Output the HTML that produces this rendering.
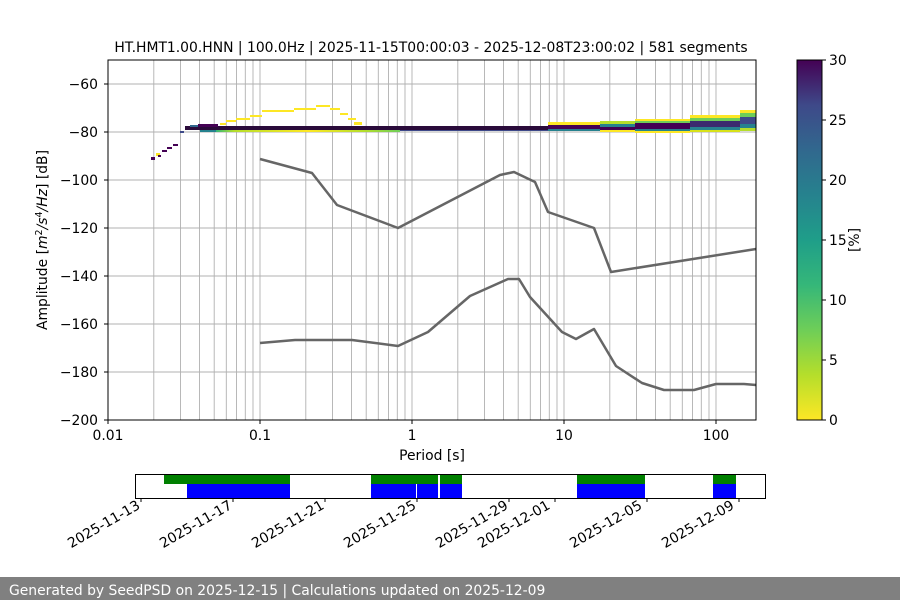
<!DOCTYPE html>
<html><head><meta charset="utf-8"><style>
body{margin:0;background:#fff;}
svg text{font-family:"DejaVu Sans","Liberation Sans",sans-serif;fill:#000;}
</style></head><body>
<svg width="900" height="600" viewBox="0 0 900 600" xmlns="http://www.w3.org/2000/svg">
<defs>
<linearGradient id="vir" x1="0" y1="1" x2="0" y2="0">
<stop offset="0" stop-color="#fde725"/><stop offset="0.125" stop-color="#b5de2b"/>
<stop offset="0.25" stop-color="#6ece58"/><stop offset="0.375" stop-color="#35b779"/>
<stop offset="0.5" stop-color="#1f9e89"/><stop offset="0.625" stop-color="#26828e"/>
<stop offset="0.75" stop-color="#31688e"/><stop offset="0.875" stop-color="#3e4989"/>
<stop offset="1" stop-color="#440154"/>
</linearGradient>
<linearGradient id="low" x1="0" y1="0" x2="1" y2="0">
<stop offset="0" stop-color="#35b779"/><stop offset="0.1" stop-color="#b5de2b"/><stop offset="0.5" stop-color="#fde725"/><stop offset="0.8" stop-color="#b5de2b"/><stop offset="1" stop-color="#6ece58"/>
</linearGradient>
</defs>
<text x="431" y="52" font-size="13.9" text-anchor="middle">HT.HMT1.00.HNN | 100.0Hz | 2025-11-15T00:00:03 - 2025-12-08T23:00:02 | 581 segments</text>
<g stroke="#b0b0b0" stroke-width="0.9">
<line x1="153.8" y1="60" x2="153.8" y2="420"/><line x1="180.5" y1="60" x2="180.5" y2="420"/><line x1="199.5" y1="60" x2="199.5" y2="420"/><line x1="214.2" y1="60" x2="214.2" y2="420"/><line x1="226.3" y1="60" x2="226.3" y2="420"/><line x1="236.5" y1="60" x2="236.5" y2="420"/><line x1="245.3" y1="60" x2="245.3" y2="420"/><line x1="253.0" y1="60" x2="253.0" y2="420"/><line x1="260" y1="60" x2="260" y2="420"/>
<line x1="305.8" y1="60" x2="305.8" y2="420"/><line x1="332.5" y1="60" x2="332.5" y2="420"/><line x1="351.5" y1="60" x2="351.5" y2="420"/><line x1="366.2" y1="60" x2="366.2" y2="420"/><line x1="378.3" y1="60" x2="378.3" y2="420"/><line x1="388.5" y1="60" x2="388.5" y2="420"/><line x1="397.3" y1="60" x2="397.3" y2="420"/><line x1="405.0" y1="60" x2="405.0" y2="420"/><line x1="412" y1="60" x2="412" y2="420"/>
<line x1="457.8" y1="60" x2="457.8" y2="420"/><line x1="484.5" y1="60" x2="484.5" y2="420"/><line x1="503.5" y1="60" x2="503.5" y2="420"/><line x1="518.2" y1="60" x2="518.2" y2="420"/><line x1="530.3" y1="60" x2="530.3" y2="420"/><line x1="540.5" y1="60" x2="540.5" y2="420"/><line x1="549.3" y1="60" x2="549.3" y2="420"/><line x1="557.0" y1="60" x2="557.0" y2="420"/><line x1="564" y1="60" x2="564" y2="420"/>
<line x1="609.8" y1="60" x2="609.8" y2="420"/><line x1="636.5" y1="60" x2="636.5" y2="420"/><line x1="655.5" y1="60" x2="655.5" y2="420"/><line x1="670.2" y1="60" x2="670.2" y2="420"/><line x1="682.3" y1="60" x2="682.3" y2="420"/><line x1="692.5" y1="60" x2="692.5" y2="420"/><line x1="701.3" y1="60" x2="701.3" y2="420"/><line x1="709.0" y1="60" x2="709.0" y2="420"/><line x1="716" y1="60" x2="716" y2="420"/>
<line x1="108" y1="84" x2="756" y2="84"/><line x1="108" y1="132" x2="756" y2="132"/><line x1="108" y1="180" x2="756" y2="180"/><line x1="108" y1="228" x2="756" y2="228"/><line x1="108" y1="276" x2="756" y2="276"/><line x1="108" y1="324" x2="756" y2="324"/><line x1="108" y1="372" x2="756" y2="372"/>
</g>
<g shape-rendering="crispEdges">
<rect x="151" y="157" width="4" height="3" fill="#440154"/>
<rect x="156" y="153" width="4" height="3" fill="#fde725"/>
<rect x="158" y="155" width="3" height="2" fill="#440154"/>
<rect x="162" y="150" width="5" height="2" fill="#440154"/>
<rect x="167" y="147" width="5" height="2" fill="#440154"/>
<rect x="173" y="144" width="5" height="2" fill="#440154"/>
<rect x="180" y="131" width="4" height="2" fill="#3e4989"/>
<rect x="185" y="126" width="363" height="4" fill="#2a0b3a"/>
<rect x="190" y="125" width="8" height="2" fill="#31688e"/>
<rect x="198" y="124" width="20" height="3" fill="#440154"/>
<rect x="200" y="130" width="16" height="2" fill="#26828e"/>
<rect x="216" y="130" width="184" height="2" fill="url(#low)"/>
<rect x="400" y="130" width="148" height="1" fill="#3e4989"/>
<rect x="220" y="123" width="6" height="2" fill="#fde725"/>
<rect x="226" y="120" width="10" height="2" fill="#fde725"/>
<rect x="236" y="118" width="14" height="2" fill="#fde725"/>
<rect x="250" y="115" width="12" height="2" fill="#fde725"/>
<rect x="262" y="110" width="32" height="2" fill="#fde725"/>
<rect x="294" y="108" width="22" height="2" fill="#fde725"/>
<rect x="316" y="105" width="14" height="2" fill="#fde725"/>
<rect x="330" y="108" width="10" height="2" fill="#fde725"/>
<rect x="340" y="113" width="8" height="2" fill="#fde725"/>
<rect x="348" y="118" width="8" height="2" fill="#fde725"/>
<rect x="354" y="122" width="8" height="3" fill="#fde725"/>
<rect x="548" y="122" width="52" height="3" fill="#fde725"/>
<rect x="548" y="125" width="52" height="4" fill="#440154"/>
<rect x="548" y="129" width="52" height="2" fill="#26828e"/>
<rect x="600" y="121" width="35" height="3" fill="#b5de2b"/>
<rect x="600" y="124" width="35" height="3" fill="#26828e"/>
<rect x="600" y="127" width="35" height="3" fill="#440154"/>
<rect x="600" y="130" width="35" height="2" fill="#fde725"/>
<rect x="635" y="119" width="55" height="2" fill="#fde725"/>
<rect x="635" y="121" width="55" height="2" fill="#6ece58"/>
<rect x="635" y="123" width="55" height="6" fill="#440154"/>
<rect x="635" y="129" width="55" height="2" fill="#26828e"/>
<rect x="635" y="131" width="55" height="2" fill="#fde725"/>
<rect x="690" y="115" width="50" height="3" fill="#fde725"/>
<rect x="690" y="118" width="50" height="3" fill="#6ece58"/>
<rect x="690" y="121" width="50" height="6" fill="#3b2a6e"/>
<rect x="690" y="127" width="50" height="3" fill="#26828e"/>
<rect x="690" y="130" width="50" height="2" fill="#d8e219"/>
<rect x="740" y="110" width="16" height="3" fill="#fde725"/>
<rect x="740" y="113" width="16" height="4" fill="#6ece58"/>
<rect x="740" y="117" width="16" height="7" fill="#3e4989"/>
<rect x="740" y="124" width="16" height="4" fill="#26828e"/>
<rect x="740" y="128" width="16" height="3" fill="#b5de2b"/>
</g>
<g fill="none" stroke="#666" stroke-width="2.5" stroke-linejoin="round">
<polyline points="260,159 312,173 337,205 398,228 500,175 514,172 535,182 548,212 594,228 611,272 756,249"/>
<polyline points="260,343 295,340 352,340 398,346 428,332 470,296 508,279 519,279 530,297 562,332 576,339 594,329 616,366 642,383 664,390 694,390 716,384 744,384 756,385"/>
</g>
<rect x="108" y="60" width="648" height="360" fill="none" stroke="#000" stroke-width="1"/>
<g stroke="#000"><line x1="104" y1="84" x2="108" y2="84"/><line x1="104" y1="132" x2="108" y2="132"/><line x1="104" y1="180" x2="108" y2="180"/><line x1="104" y1="228" x2="108" y2="228"/><line x1="104" y1="276" x2="108" y2="276"/><line x1="104" y1="324" x2="108" y2="324"/><line x1="104" y1="372" x2="108" y2="372"/><line x1="104" y1="420" x2="108" y2="420"/>
<line x1="108" y1="420" x2="108" y2="424"/><line x1="260" y1="420" x2="260" y2="424"/><line x1="412" y1="420" x2="412" y2="424"/><line x1="564" y1="420" x2="564" y2="424"/><line x1="716" y1="420" x2="716" y2="424"/></g>
<g font-size="13.9" text-anchor="end">
<text x="98" y="89">−60</text><text x="98" y="137">−80</text><text x="98" y="185">−100</text><text x="98" y="233">−120</text><text x="98" y="281">−140</text><text x="98" y="329">−160</text><text x="98" y="377">−180</text><text x="98" y="425">−200</text>
</g>
<g font-size="13.9" text-anchor="middle">
<text x="108" y="440">0.01</text><text x="260" y="440">0.1</text><text x="412" y="440">1</text><text x="564" y="440">10</text><text x="716" y="440">100</text>
<text x="432" y="460">Period [s]</text>
</g>
<text transform="translate(47,240) rotate(-90)" font-size="13.9" text-anchor="middle">Amplitude [<tspan font-style="italic">m</tspan><tspan font-size="9.5" dy="-5">2</tspan><tspan dy="5" font-style="italic">/s</tspan><tspan font-size="9.5" dy="-5">4</tspan><tspan dy="5" font-style="italic">/Hz</tspan>] [dB]</text>
<rect x="797" y="60" width="25" height="360" fill="url(#vir)" stroke="#000" stroke-width="1"/>
<g stroke="#000"><line x1="822" y1="60" x2="826" y2="60"/><line x1="822" y1="120" x2="826" y2="120"/><line x1="822" y1="180" x2="826" y2="180"/><line x1="822" y1="240" x2="826" y2="240"/><line x1="822" y1="300" x2="826" y2="300"/><line x1="822" y1="360" x2="826" y2="360"/><line x1="822" y1="420" x2="826" y2="420"/></g>
<g font-size="13.9"><text x="829" y="65">30</text><text x="829" y="125">25</text><text x="829" y="185">20</text><text x="829" y="245">15</text><text x="829" y="305">10</text><text x="829" y="365">5</text><text x="829" y="425">0</text></g>
<text transform="translate(859,240) rotate(-90)" font-size="13.9" text-anchor="middle">[%]</text>
<g shape-rendering="crispEdges">
<rect x="164" y="474" width="126" height="10" fill="#008000"/>
<rect x="187" y="484" width="103" height="14" fill="#0000ff"/>
<rect x="371" y="474" width="67" height="10" fill="#008000"/>
<rect x="440" y="474" width="22" height="10" fill="#008000"/>
<rect x="371" y="484" width="91" height="14" fill="#0000ff"/>
<rect x="416" y="484" width="1" height="14" fill="#fff"/>
<rect x="438" y="474" width="2" height="24" fill="#fff"/>
<rect x="577" y="474" width="68" height="10" fill="#008000"/>
<rect x="577" y="484" width="68" height="14" fill="#0000ff"/>
<rect x="713" y="474" width="23" height="10" fill="#008000"/>
<rect x="713" y="484" width="23" height="14" fill="#0000ff"/>
</g>
<rect x="135.5" y="474.5" width="630" height="24" fill="none" stroke="#000"/>
<g stroke="#000"><line x1="141" y1="498" x2="141" y2="502"/><line x1="233" y1="498" x2="233" y2="502"/><line x1="325" y1="498" x2="325" y2="502"/><line x1="417" y1="498" x2="417" y2="502"/><line x1="509" y1="498" x2="509" y2="502"/><line x1="555" y1="498" x2="555" y2="502"/><line x1="647" y1="498" x2="647" y2="502"/><line x1="739" y1="498" x2="739" y2="502"/></g>
<g font-size="13.9" text-anchor="end">
<text transform="translate(141,508) rotate(-30)">2025-11-13</text>
<text transform="translate(233,508) rotate(-30)">2025-11-17</text>
<text transform="translate(325,508) rotate(-30)">2025-11-21</text>
<text transform="translate(417,508) rotate(-30)">2025-11-25</text>
<text transform="translate(509,508) rotate(-30)">2025-11-29</text>
<text transform="translate(551,508) rotate(-30)">2025-12-01</text>
<text transform="translate(643,508) rotate(-30)">2025-12-05</text>
<text transform="translate(735,508) rotate(-30)">2025-12-09</text>
</g>
<rect x="0" y="577" width="900" height="23" fill="#808080"/>
<text x="9" y="595" font-size="13.9" style="fill:#fff">Generated by SeedPSD on 2025-12-15 | Calculations updated on 2025-12-09</text>
</svg>
</body></html>
